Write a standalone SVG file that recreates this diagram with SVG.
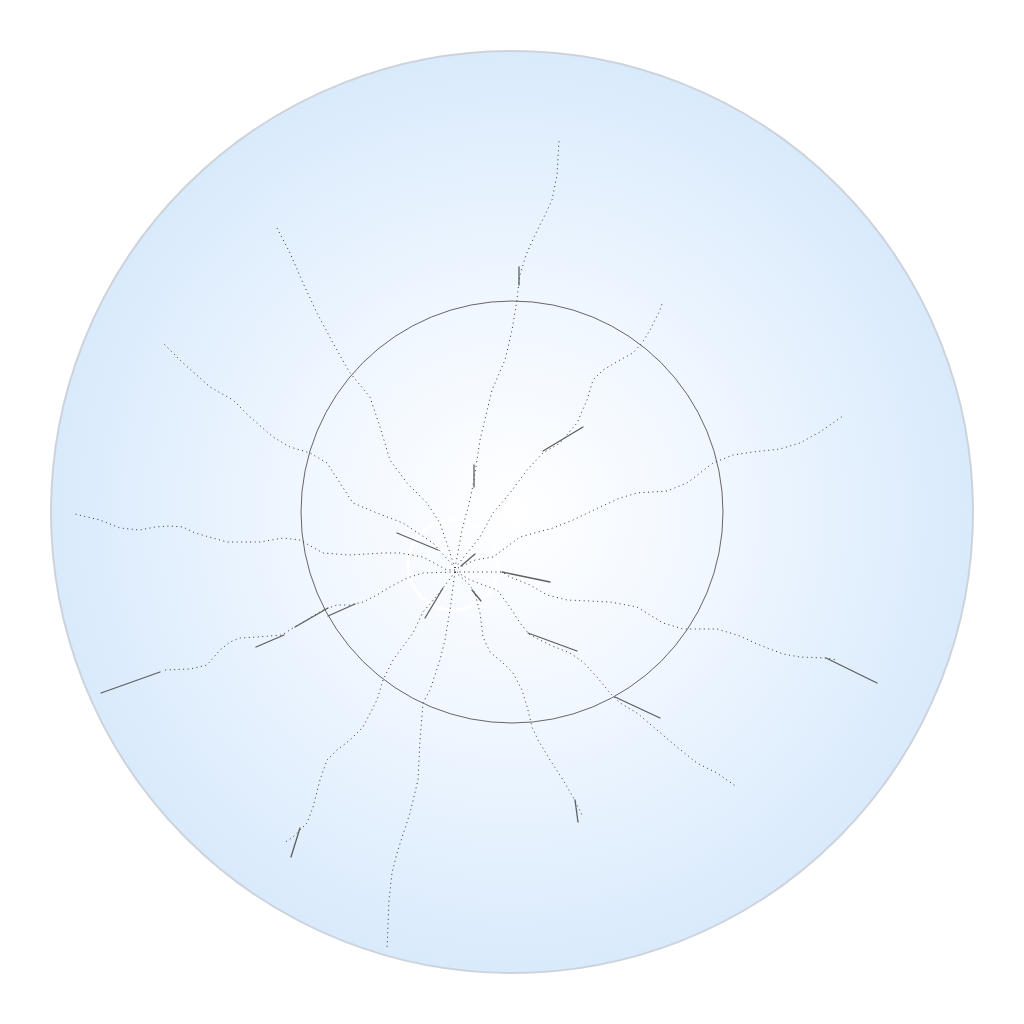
<svg xmlns="http://www.w3.org/2000/svg" width="1024" height="1024" viewBox="0 0 1024 1024">
<defs>
<radialGradient id="bg" cx="512" cy="512" r="461" gradientUnits="userSpaceOnUse">
<stop offset="0" stop-color="#ffffff"/>
<stop offset="0.45" stop-color="#f0f7ff"/>
<stop offset="1" stop-color="#d9eafc"/>
</radialGradient>
<style>
.dot{fill:none;stroke:#333;stroke-width:1;stroke-dasharray:1 3.5;stroke-linejoin:round}
.seg{fill:none;stroke:#5e5e5e;stroke-width:1.3;stroke-linecap:round}
</style>
</defs>
<rect width="1024" height="1024" fill="#ffffff"/>
<g id="outer">
<circle cx="512" cy="512" r="461" fill="url(#bg)" stroke="#cdd3da" stroke-width="2"/>
</g>
<g id="inner">
<circle cx="512" cy="512" r="211" fill="none" stroke="#666" stroke-width="1"/>
</g>
<g id="hub">
<circle cx="453" cy="565" r="45" fill="none" stroke="#ffffff" stroke-width="3" opacity="0.9"/>
</g>
<g id="connectors">
<path class="dot" d="M455,568 L462,530 L470,500 L474,480 L480,440 L492,390 L505,360 L512,330 L517,300 L518,290 L520,275 L526,255 L535,235 L545,215 L552,200 L557,175 L559,141"/>
<path class="dot" d="M455,568 L480,537 L493,513 L510,493 L527,470 L543,453 L560,443 L577,423 L587,400 L593,380 L603,370 L620,360 L633,353 L642,343 L650,330 L660,310 L662,304"/>
<path class="dot" d="M458,568 L475,560 L493,557 L520,537 L553,528 L573,520 L600,507 L620,498 L637,493 L667,491 L687,483 L700,473 L713,463 L733,455 L753,452 L780,449 L800,443 L820,432 L843,416"/>
<path class="dot" d="M455,572 L502,572 L510,577 L530,585 L547,595 L567,600 L610,602 L637,607 L663,623 L683,629 L717,629 L740,636 L757,644 L783,654 L800,657 L826,658 L837,660"/>
<path class="dot" d="M457,572 L470,580 L497,590 L510,607 L520,623 L530,635 L550,645 L570,653 L583,662 L597,677 L610,693 L620,703 L637,713 L657,730 L677,747 L697,763 L717,773 L737,787"/>
<path class="dot" d="M455,572 L468,583 L475,593 L480,613 L483,637 L490,652 L503,663 L513,673 L522,690 L528,710 L532,727 L538,740 L550,760 L563,780 L573,797 L583,817"/>
<path class="dot" d="M455,572 L450,610 L445,640 L440,660 L430,690 L423,703 L420,740 L418,780 L410,813 L397,853 L392,873 L389,900 L387,950"/>
<path class="dot" d="M455,572 L440,592 L423,612 L413,633 L393,660 L383,680 L377,700 L363,727 L350,740 L337,750 L327,760 L320,780 L313,807 L307,823 L300,830 L293,837 L284,843"/>
<path class="dot" d="M455,572 L423,573 L407,578 L390,587 L377,595 L363,602 L350,605 L337,605 L323,610 L310,618 L293,628 L282,635 L257,637 L240,638 L230,642 L220,650 L207,665 L190,669 L165,670"/>
<path class="dot" d="M455,570 L447,570 L423,557 L400,553 L383,553 L350,555 L323,553 L300,540 L283,538 L260,542 L227,542 L195,533 L183,527 L170,526 L155,527 L140,530 L120,528 L100,520 L75,514"/>
<path class="dot" d="M455,568 L433,543 L403,523 L377,513 L353,503 L340,483 L327,463 L310,453 L290,447 L273,437 L250,417 L233,400 L210,387 L183,363 L162,342"/>
<path class="dot" d="M455,568 L450,553 L440,523 L427,503 L407,483 L390,460 L380,427 L370,397 L350,373 L333,343 L317,313 L303,283 L290,253 L277,228"/>
<line class="seg" x1="519" y1="267" x2="519" y2="285"/>
<line class="seg" x1="474" y1="465" x2="474" y2="487"/>
<line class="seg" x1="583" y1="427" x2="543" y2="451"/>
<line class="seg" x1="475" y1="554" x2="461" y2="566"/>
<line class="seg" x1="502" y1="572" x2="550" y2="582"/>
<line class="seg" x1="826" y1="658" x2="877" y2="683"/>
<line class="seg" x1="528" y1="633" x2="577" y2="651"/>
<line class="seg" x1="615" y1="697" x2="660" y2="718"/>
<line class="seg" x1="472" y1="590" x2="481" y2="601"/>
<line class="seg" x1="575" y1="800" x2="578" y2="822"/>
<line class="seg" x1="443" y1="588" x2="425" y2="618"/>
<line class="seg" x1="300" y1="828" x2="291" y2="857"/>
<line class="seg" x1="101" y1="693" x2="160" y2="672"/>
<line class="seg" x1="256" y1="647" x2="284" y2="635"/>
<line class="seg" x1="295" y1="627" x2="328" y2="608"/>
<line class="seg" x1="328" y1="616" x2="355" y2="604"/>
<line class="seg" x1="397" y1="533" x2="438" y2="550"/>
</g>
</svg>
